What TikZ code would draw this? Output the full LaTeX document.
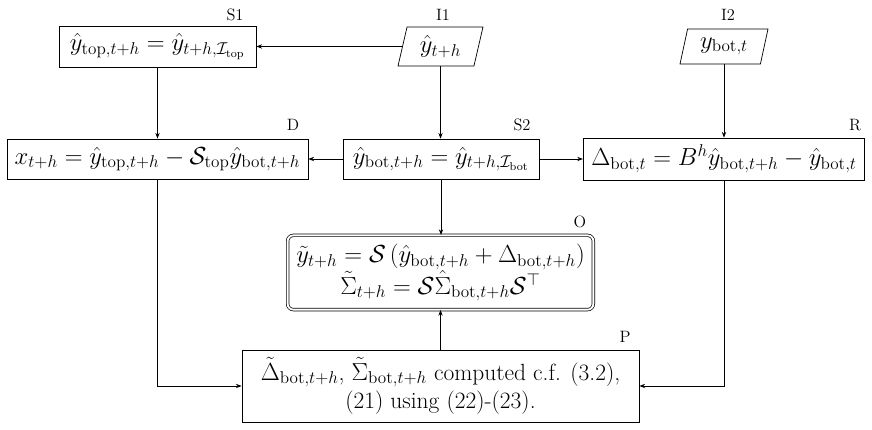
\documentclass[tikz,border=0pt]{standalone}
\usetikzlibrary{shapes.geometric,arrows.meta}
\begin{document}
\begin{tikzpicture}[x=0.7pt,y=-0.7pt,
  big/.style={font=\fontsize{16.4}{19.7}\selectfont},
  box/.style={draw, line width=0.5pt, big, inner sep=2pt, align=center},
  para/.style={draw, line width=0.5pt, big, trapezium, trapezium left angle=72, trapezium right angle=108, trapezium stretches body, inner sep=2pt},
  tag/.style={font=\fontsize{11.5}{13}\selectfont, inner sep=0pt},
  arr/.style={line width=0.5pt, -{Stealth[length=4pt,width=3pt]}}]
\useasboundingbox (0,0) rectangle (872,430);
% nodes
\node[box, minimum width=137.9pt, minimum height=28.7pt] (S1) at (157.5,46.5)
  {$\hat y_{\mathrm{top},t+h} = \hat y_{t+h,\mathcal{I}_{\mathrm{top}}}$};
\node[para, minimum width=59.5pt, minimum height=27.3pt] (I1) at (440.5,46.5) {$\hat y_{t+h}$};
\node[para, minimum width=61.6pt, minimum height=24.5pt] (I2) at (724,46.5) {$y_{\mathrm{bot},t}$};
\node[box, minimum width=210.7pt, minimum height=28pt] (D) at (157.5,159)
  {$x_{t+h} = \hat y_{\mathrm{top},t+h} - \mathcal{S}_{\mathrm{top}}\hat y_{\mathrm{bot},t+h}$};
\node[box, minimum width=137pt, minimum height=28pt] (S2) at (441,159)
  {$\hat y_{\mathrm{bot},t+h} = \hat y_{t+h,\mathcal{I}_{\mathrm{bot}}}$};
\node[box, minimum width=197pt, minimum height=29.4pt] (R) at (724,159)
  {$\Delta_{\mathrm{bot},t} = B^h\hat y_{\mathrm{bot},t+h} - \hat y_{\mathrm{bot},t}$};
\node[box, rounded corners=4pt, double, double distance=1.3pt, minimum width=214pt, minimum height=52pt] (O) at (440.5,272.5)
  {$\tilde y_{t+h} = \mathcal{S}\left(\hat y_{\mathrm{bot},t+h} + \Delta_{\mathrm{bot},t+h}\right)$\\
   $\tilde\Sigma_{t+h} = \mathcal{S}\hat\Sigma_{\mathrm{bot},t+h}\mathcal{S}^{\top}$};
\node[box, minimum width=278pt, minimum height=50.4pt] (P) at (440.5,386)
  {$\tilde\Delta_{\mathrm{bot},t+h}$, $\tilde\Sigma_{\mathrm{bot},t+h}$ computed c.f. (3.2),\\ (21) using (22)-(23).};
% labels
\node[tag] (lS1) at (235,15) {S1};
\node[tag] (lI1) at (443,15) {I1};
\node[tag] (lI2) at (728,15) {I2};
\node[tag] (lD) at (293,125) {D};
\node[tag] (lS2) at (522,125) {S2};
\node[tag] (lR) at (855,125) {R};
\node[tag] (lO) at (580,222) {O};
\node[tag] (lP) at (625,337) {P};
% connectors
\draw[arr] (I1.west) -- (I1.west -| S1.east);
\draw[arr] (S1.south) -- (S1.south |- D.north);
\draw[arr] (I1.south) -- (I1.south |- S2.north);
\draw[arr] (I2.south) -- (I2.south |- R.north);
\draw[arr] (S2.west) -- (S2.west -| D.east);
\draw[arr] (S2.east) -- (S2.east -| R.west);
\draw[arr] (S2.south) -- (S2.south |- O.north);
\draw[arr] (P.north -| O.south) -- (O.south);
\draw[arr] (D.south) |- (P.west);
\draw[arr] (R.south) |- (P.east);
\end{tikzpicture}
\end{document}
